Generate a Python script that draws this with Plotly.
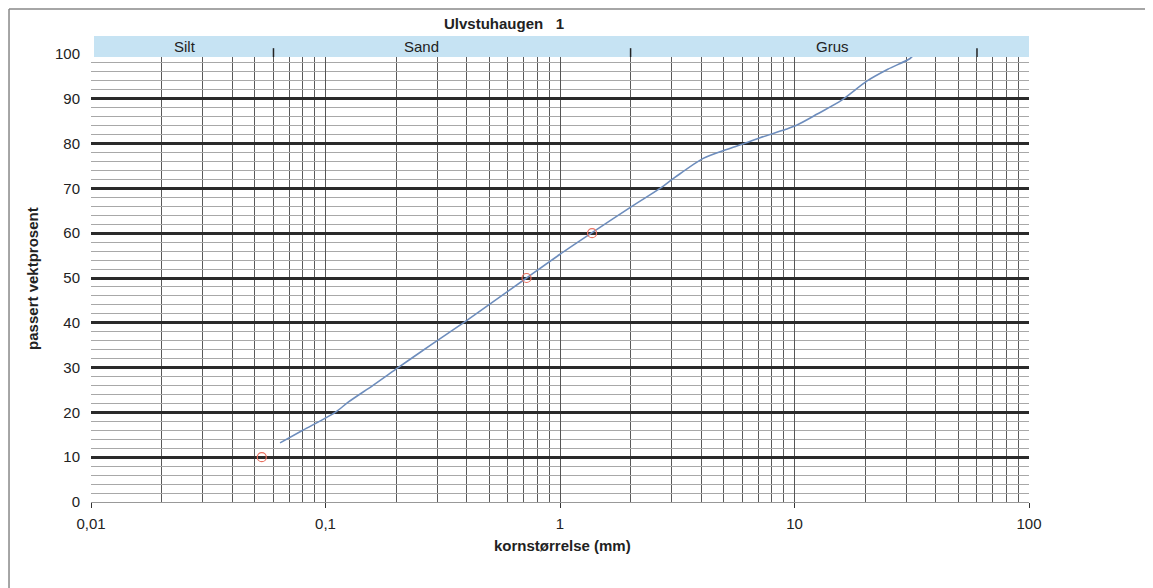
import plotly.graph_objects as go

# ---- data ----
title_text = "Ulvstuhaugen   1"
grain_mm = [0.064, 0.08, 0.11, 0.125, 0.16, 0.204, 0.25, 0.315, 0.387, 0.5, 0.72,
            1.0, 1.36, 2.04, 2.67, 3.1, 4.08, 5.14, 6.1, 7.13, 9.2, 10.2, 12.5,
            15.9, 20.4, 25.0, 31.1, 32.5]
passing_pct = [13.2, 16.0, 20.0, 22.3, 26.1, 30.0, 33.2, 36.8, 40.0, 44.1, 50.0,
               55.3, 60.0, 66.1, 70.0, 72.5, 76.7, 78.7, 80.0, 81.3, 83.2, 84.1, 86.6,
               89.7, 94.0, 96.6, 99.0, 100.0]
marker_mm = [0.0535, 0.72, 1.37]
marker_pct = [10, 50, 60]
x_tickvals = [0.01, 0.1, 1, 10, 100]
x_ticktext = ["0,01", "0,1", "1", "10", "100"]
y_tickvals = list(range(0, 101, 10))
band_labels = ["Silt", "Sand", "Grus"]
band_label_x = [0.1, 0.352, 0.791]          # paper positions
band_bounds_mm = [0.06, 2, 60]
x_minor_vals = [m * 10.0 ** e for e in range(-2, 2) for m in range(2, 10)]

FONT = "Liberation Sans, Arial, sans-serif"
TXT = "#222222"

fig = go.Figure()
fig.add_trace(go.Scatter(x=grain_mm, y=passing_pct, mode="lines",
                         line=dict(color="#6d8dbd", width=1.6, shape="spline", smoothing=0.8),
                         showlegend=False, hoverinfo="skip"))
fig.add_trace(go.Scatter(x=marker_mm, y=marker_pct, mode="markers",
                         marker=dict(symbol="circle-open", size=9, color="#e8705f",
                                     line=dict(width=1.2)),
                         showlegend=False))

shapes = []
# blue band above plot
shapes.append(dict(type="rect", xref="paper", yref="paper", x0=0.0032, x1=1.0,
                   y0=0.9933, y1=1.0402, fillcolor="#c6e3f3", line=dict(width=0),
                   layer="above"))
for b in band_bounds_mm:
    shapes.append(dict(type="line", xref="x", yref="paper", x0=b, x1=b,
                       y0=0.9933, y1=1.013, line=dict(color="#222", width=1.5),
                       layer="above"))
# outer frame lines
shapes.append(dict(type="line", xref="paper", yref="paper", x0=-0.0874, x1=-0.0874,
                   y0=-0.25, y1=1.1004, line=dict(color="#888", width=1.5)))
shapes.append(dict(type="line", xref="paper", yref="paper", x0=-0.0874, x1=1.15,
                   y0=1.1004, y1=1.1004, line=dict(color="#888", width=1.5)))

def ann(text, x, y, **kw):
    d = dict(text=text, xref="paper", yref="paper", x=x, y=y, showarrow=False,
             xanchor="center", yanchor="middle",
             font=dict(family=FONT, size=15, color=TXT))
    d.update(kw)
    return d

annotations = [ann("<b>" + title_text + "</b>", 0.44, 1.067)]
for lab, px in zip(band_labels, band_label_x):
    annotations.append(ann(lab, px, 1.016))
annotations.append(ann("<b>kornstørrelse (mm)</b>", 0.503, -0.096))
annotations.append(ann("<b>passert vektprosent</b>", -0.063, 0.5, textangle=-90))

fig.update_layout(
    width=1153, height=588,
    margin=dict(l=83, r=132, t=46, b=94),
    paper_bgcolor="white", plot_bgcolor="white",
    shapes=shapes, annotations=annotations,
    font=dict(family=FONT, size=15, color=TXT),
    xaxis=dict(type="log", range=[-2, 2], tickvals=x_tickvals, ticktext=x_ticktext,
               ticks="outside", ticklen=5, tickcolor="#333", tickwidth=1,
               ticklabelstandoff=3,
               showgrid=True, gridcolor="#555", gridwidth=1,
               showline=False, zeroline=False,
               minor=dict(tickvals=x_minor_vals, showgrid=True, gridcolor="#5a5a5a",
                          gridwidth=1, ticks="")),
    yaxis=dict(range=[0, 100], tickvals=y_tickvals, ticks="", ticklabelstandoff=10,
               showgrid=True, gridcolor="#2a2a2a", gridwidth=3,
               zeroline=True, zerolinecolor="#999", zerolinewidth=1,
               showline=False,
               minor=dict(dtick=2, showgrid=True, gridcolor="#a8a8a8", gridwidth=1,
                          ticks="")),
)

fig.write_html("out.html")
